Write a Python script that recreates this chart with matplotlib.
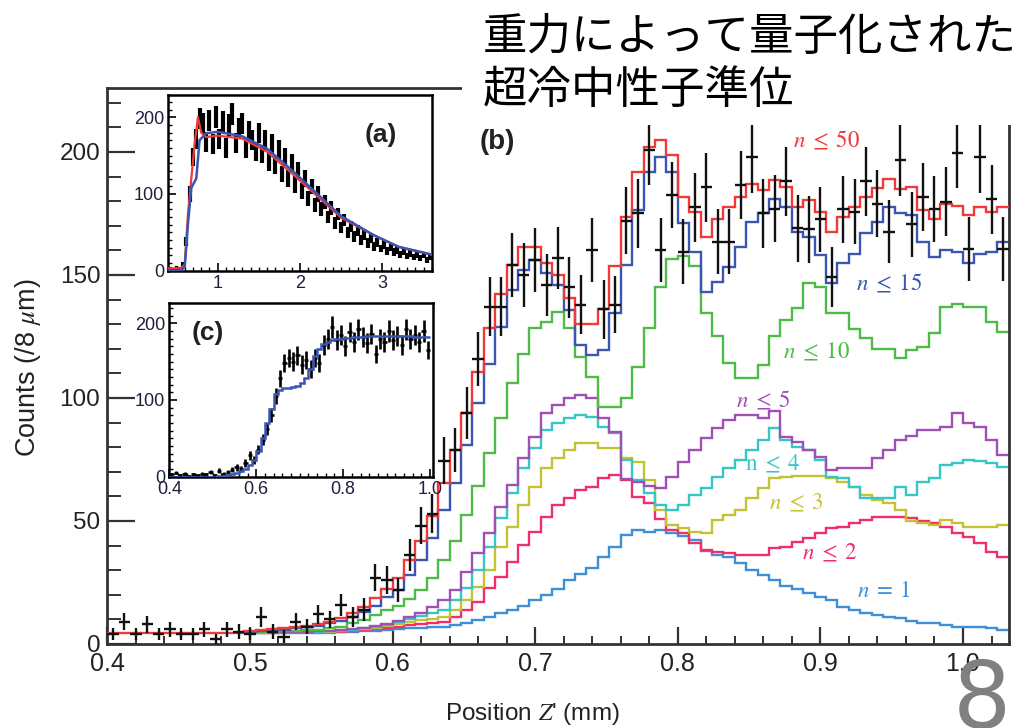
import numpy as np
import matplotlib
matplotlib.use('Agg')
import matplotlib.pyplot as plt
from matplotlib.patches import Rectangle
from matplotlib.ticker import MultipleLocator

plt.rcParams['font.family'] = ['Liberation Sans', 'DejaVu Sans']
plt.rcParams['mathtext.fontset'] = 'stix'

# --- main panel (b): data, 8 um bins starting at 0.4 mm ---
BIN_START = 0.4
BIN_WIDTH = 0.008
MODEL_START_BIN = 12   # model curves other than n<=50 start here

counts = [4, 9, 4, 8, 4, 6, 4, 4, 6, 2,
          6, 5, 4, 11, 5, 3, 9, 7, 12, 10,
          16, 11, 14, 27, 26, 22, 36, 48, 53, 74.5,
          79, 94, 116, 137, 137, 154, 150, 156, 146, 157,
          145, 138, 160, 136, 138, 172, 175, 201, 160, 182.5,
          159.5, 177.5, 185.6, 163.5, 163.5, 186.6, 198, 175, 177, 188,
          169, 168.5, 172.6, 149.3, 176.7, 175.8, 188, 179, 167.6, 196.7,
          170.6, 181.6, 176.7, 179.8, 199.7, 160.4, 197.8, 180.8, 160.4]
count_errors = [2.5, 3.5, 2.5, 3.5, 2.5, 3, 2.5, 2.5, 3, 2,
                3, 3, 2.5, 4, 3, 2.5, 3.5, 3, 4, 3.5,
                4.5, 4, 4.5, 5.5, 5.5, 5, 6.5, 7.5, 8, 9.5,
                9, 10.5, 11, 12, 12, 13, 13, 13, 12.5, 12.5,
                12.5, 12, 13, 12, 11.5, 13.6, 14, 14.5, 13, 13.6,
                13.2, 13.9, 13.9, 13.2, 13.2, 14, 14.5, 13.9, 13.5, 13.9,
                13.6, 13.6, 13.3, 12.2, 13.7, 13.3, 13.9, 13.6, 12.9, 14.5,
                13.2, 13.9, 13.4, 13.9, 14.5, 13, 14.5, 14, 13]

model_n50 = [4.6] * 12 + [
    5.3, 5.5, 6, 6.3, 7, 7.5, 8, 9, 10.5, 12.5,
    15, 18.5, 22.5, 27, 34, 42, 52,
    65.3, 78.9, 93.8, 110.7, 128.3, 142.1, 154, 161.5, 161.5, 154.7, 150, 140.5, 130, 130, 136, 153.5,
    173.7, 192, 201.9, 204.9, 198.8, 181.8, 175.7, 165.6, 172.6, 177.5, 181.6, 187, 184.6, 188.7,
    185.9, 177.5, 180.5, 175.7, 167.6, 173.7, 177.5, 181.6, 185.2, 188.9, 184.8,
    185.6, 176.4, 172.6, 178.9, 178, 174.4, 177.5, 175.7, 177.5]
model_n15 = [5, 5.2, 5.5, 5.8, 6.3, 7, 7.5, 8.5, 9.5, 11,
             13, 15.5, 19, 22, 28, 34, 43,
             54.5, 65.3, 81, 97.8, 114, 129, 143.9, 152, 156, 150.7, 146, 135.8, 121.5, 117.5, 119.5, 134.4,
             154, 176.4, 192, 197.8, 192, 171.3, 159.5, 143.2, 147.3, 153.4, 161.5, 171.7, 175.1, 180.8,
             177.5, 167.6, 165.6, 158.1, 146.6, 154.7, 158.5, 167, 171.7, 177.8, 175.1,
             174.4, 163.5, 157.5, 160.2, 159.5, 155, 158.5, 159.5, 163.5]
model_n10 = [4.8, 4.9, 5, 5.1, 5.3, 5.5, 5.8, 6.4, 7, 8.4,
             9.6, 11.6, 13.7, 15.6, 18.3, 22, 27,
             34, 42, 52.4, 64.2, 77.5, 91.8, 106, 118, 128.4, 131, 135, 128.4, 116.8, 108.6, 96.5, 96.5,
             99.9, 112.7, 128.3, 145.3, 156.4, 157.7, 153.7, 134.4, 125, 114.1, 108, 108, 113.4, 125.3,
             131.7, 136.5, 146.6, 145.2, 134.4, 134.4, 127.9, 124.3, 119.8, 119.8, 116.1,
             119.5, 120.9, 126.3, 137.1, 138.2, 137.1, 137.1, 131, 127]
model_n5 = [4.7, 4.7, 4.8, 4.8, 4.9, 5, 5.1, 5.3, 5.6, 6,
            6.6, 7.4, 8.3, 9.4, 10.8, 12.5, 15,
            17.9, 22, 29.4, 36.9, 45, 55.8, 64.6, 75.5, 84.3, 93.8, 97, 100, 101.2, 99.9, 91.7, 86.3,
            67, 66, 64.2, 63.3, 68, 74.1, 78.9, 83.6, 88, 91.1, 93.1, 93.1, 92, 94.8,
            84, 82.2, 78.9, 76.1, 70.7, 71.4, 71.4, 71.4, 75.5, 78.9, 82.9,
            84.6, 87, 87, 88.3, 93.8, 89.7, 88.3, 82.9, 77]
model_n4 = [4.7, 4.7, 4.7, 4.8, 4.8, 4.9, 5, 5.1, 5.4, 5.8,
            6.3, 7, 7.8, 8.8, 10, 11.2, 12.5,
            13.8, 17.9, 22.6, 30.1, 39.6, 51.1, 61.3, 71.4, 79.5, 87, 89.7, 91.7, 93.1, 92.4, 88.3, 85.6,
            74.8, 66.7, 61.3, 56.5, 54.5, 56.5, 60.6, 63.3, 68, 71.4, 74.8, 78.9, 82.9, 87.7,
            82.9, 80.2, 78.9, 74.8, 68, 67.3, 63.9, 59.2, 59.2, 59.2, 63.9,
            60.6, 66, 67.3, 72.8, 73.7, 74.8, 74.4, 73.4, 71.8]
model_n3 = [4.6, 4.6, 4.7, 4.7, 4.8, 4.8, 4.9, 5, 5.2, 5.5,
            5.9, 6.5, 7.2, 8, 8.8, 9.6, 10.3,
            11.1, 13.8, 17.9, 23.3, 30.1, 39.6, 47.7, 56.5, 63.9, 71.4, 75.5, 78.9, 81.6, 81.8, 79.5, 79.5,
            75.5, 74.1, 66.7, 54.5, 48.4, 47, 45.7, 45, 50.4, 52.4, 54.5, 59.2, 63.3, 67.3,
            68, 68.3, 68.3, 68.3, 67.3, 66, 63.9, 60.6, 58.5, 57.2, 54.5,
            49.8, 49.1, 48.4, 50.4, 49.1, 47.7, 47.7, 47.7, 48.4]
model_n2 = [4.6, 4.6, 4.6, 4.7, 4.7, 4.8, 4.8, 4.9, 5, 5.3,
            5.6, 6, 6.5, 7, 7.6, 8.2, 8.7,
            9.1, 11.1, 13.8, 17.2, 22.6, 27.4, 33.5, 40.2, 45.7, 51.8, 56.5, 59.5, 62.6, 63.9, 67.5, 68.7,
            66.7, 59.9, 57.2, 51, 46.3, 45, 40.9, 38.2, 37.5, 36.9, 36.2, 36.2, 36.2, 38.9,
            39.6, 41.6, 42.9, 45, 47, 47.7, 49.3, 50.4, 51.5, 51.8, 51.8,
            51.1, 49.8, 49.1, 47.7, 45, 43.6, 40.9, 37.5, 35.4]
model_n1 = [4.6, 4.6, 4.6, 4.6, 4.6, 4.6, 4.6, 4.6, 4.7, 4.9,
            5.1, 5.4, 5.7, 6, 6.3, 6.6, 6.8,
            7, 7.7, 8.7, 9.8, 10.9, 12.5, 13.8, 15.5, 17.9, 20, 22.2, 26, 28.5, 30.8, 35.5, 39.6,
            44.3, 46.5, 45.7, 46.5, 45, 43.7, 42.3, 38, 36.2, 35.5, 32.8, 30.1, 28, 26,
            23.6, 22.2, 20.6, 19.2, 17.9, 15.2, 13.8, 12.5, 11.8, 11.1, 10.5,
            9.5, 8.7, 8.4, 7.7, 7, 7, 6.8, 6.4, 5.7]

# --- inset (a): wide range, 0.04 mm bins ---
A_BIN_START = 0.4
A_BIN_WIDTH = 0.04
counts_a = [2, 1, 3, 2, 8, 38, 100, 148, 172, 198,
            192, 168, 196, 165, 200, 172, 194, 160, 190, 204,
            166, 185, 192, 160, 182, 170, 155, 180, 152, 170,
            142, 165, 138, 158, 126, 148, 120, 140, 112, 130,
            104, 120, 94, 110, 86, 100, 80, 90, 70, 82,
            62, 74, 56, 66, 50, 58, 45, 52, 40, 47,
            36, 42, 32, 37, 29, 34, 26, 30, 24, 27,
            21, 25, 19, 23, 18, 21, 16, 20, 14, 18]
errors_a = [2, 2, 2, 2, 3, 6, 10, 12, 13, 14,
            14, 13, 14, 13, 14, 13, 14, 13, 14, 14,
            13, 14, 14, 13, 13, 13, 12, 13, 12, 13,
            12, 13, 12, 12, 11, 12, 11, 12, 11, 11,
            10, 11, 10, 10, 9, 10, 9, 9, 8, 9,
            8, 8, 7, 8, 7, 7, 7, 7, 6, 7,
            6, 6, 6, 6, 5, 6, 5, 5, 5, 5,
            5, 5, 4, 5, 4, 5, 4, 4, 4, 4]
fit_a_x = [0.4, 0.55, 0.6, 0.64, 0.68, 0.74, 0.78, 0.86, 1.0, 1.3, 1.6, 1.9, 2.2, 2.5, 2.9, 3.2, 3.6]
fit_a_blue = [0, 0, 5, 62, 108, 120, 170, 179, 181, 175, 159, 131, 101, 71, 46, 31, 21]
fit_a_red_x = [0.4, 0.55, 0.6, 0.64, 0.68, 0.72, 0.76, 0.8, 0.86, 1.0, 1.3, 1.6, 1.9, 2.2, 2.5, 2.9, 3.2, 3.6]
fit_a_red = [3, 3, 8, 75, 120, 165, 200, 180, 174, 176, 172, 155, 127, 98, 69, 46, 31, 21]

# --- inset (c): 0.01 mm bins ---
C_BIN_START = 0.4
C_BIN_WIDTH = 0.01
counts_c = [3, 5, 2, 4, 1, 3, 2, 4, 3, 6,
            2, 8, 4, 6, 9, 12, 10, 18, 28, 22,
            35, 48, 62, 80, 105, 128, 148, 155, 150, 158,
            146, 152, 140, 155, 148, 172, 180, 195, 178, 185,
            170, 188, 176, 192, 182, 174, 186, 160, 180, 175,
            190, 178, 183, 172, 192, 180, 185, 176, 190, 165]
errors_c = [2, 2, 2, 2, 1, 2, 2, 2, 2, 3,
            2, 3, 2, 3, 3, 4, 4, 5, 6, 5,
            6, 7, 8, 9, 10, 11, 12, 12, 12, 12,
            12, 12, 12, 12, 12, 13, 13, 14, 13, 13,
            13, 13, 13, 14, 13, 13, 13, 12, 13, 13,
            14, 13, 13, 13, 14, 13, 13, 13, 14, 12]
fit_c = [0, 0, 0, 0, 0, 0, 0, 0, 0, 0,
         0, 0.5, 1, 2, 3, 5, 7, 10, 15, 22,
         33, 50, 70, 88, 108, 113, 115, 116, 117, 118,
         122, 128, 140, 157, 167, 173, 176, 178, 179, 180,
         181, 181, 182, 182, 182, 183, 183, 183, 183, 183,
         183, 183, 183, 183, 183, 183, 182, 182, 182, 182]

TEXT_COLOR = '#222222'
FRAME_COLOR = '#333333'

fig = plt.figure(figsize=(10.18, 7.28), dpi=100)

# ---------------- main axes ----------------
ax = fig.add_axes([0.1054, 0.1154, 0.8861, 0.7637])
edges = BIN_START + BIN_WIDTH * np.arange(len(counts) + 1)
centers = edges[:-1] + BIN_WIDTH / 2

models = [
    (model_n1, '#3d8fd6', r'$n\;=\;1$', (0.9445, 21.7)),
    (model_n2, '#ef2f6a', r'$n\;\leq\;2$', (0.9068, 37)),
    (model_n3, '#c4c233', r'$n\;\leq\;3$', (0.883, 57.3)),
    (model_n4, '#36c6c6', r'$\mathrm{n}\;\leq\;4$', (0.8668, 73.2)),
    (model_n5, '#a04fb4', r'$n\;\leq\;5$', (0.8598, 98.9)),
    (model_n10, '#4dbb46', r'$n\;\leq\;10$', (0.8977, 118.9)),
    (model_n15, '#3a55b2', r'$n\;\leq\;15$', (0.9485, 146.3)),
]
for values, color, label, (lx, ly) in models:
    ax.stairs(values, edges[MODEL_START_BIN:], color=color, linewidth=1.7, baseline=None, zorder=2)
    ax.text(lx, ly, label, color=color, fontsize=16.5, ha='center', va='center', zorder=4)
ax.stairs(model_n50, edges, color='#f03a3a', linewidth=1.7, baseline=None, zorder=3)
ax.text(0.9047, 204.5, r'$n\;\leq\;50$', color='#f03a3a', fontsize=16.5,
        ha='center', va='center', zorder=4)

ax.errorbar(centers, counts, yerr=count_errors, xerr=BIN_WIDTH / 2, fmt='none',
            ecolor='#111111', elinewidth=1.7, capsize=0, zorder=5)

ax.text(0.6738, 203.9, '(b)', fontsize=20, fontweight='bold', color=TEXT_COLOR,
        ha='center', va='center')

ax.set_xlim(0.4, 1.0325)
ax.set_ylim(0, 226)
ax.set_xticks([0.4, 0.5, 0.6, 0.7, 0.8, 0.9, 1.0])
ax.set_xticklabels(['0.4', '0.5', '0.6', '0.7', '0.8', '0.9', '1.0'])
ax.xaxis.set_minor_locator(MultipleLocator(0.02))
ax.set_yticks([0, 50, 100, 150, 200])
ax.yaxis.set_minor_locator(MultipleLocator(10))
ax.tick_params(axis='x', which='major', direction='in', length=12, width=1.6,
               colors=FRAME_COLOR, labelcolor=TEXT_COLOR, labelsize=18, pad=6)
ax.tick_params(axis='x', which='minor', direction='in', length=6, width=1.4, colors=FRAME_COLOR)
ax.tick_params(axis='y', which='major', direction='in', length=20, width=1.6,
               colors=FRAME_COLOR, labelcolor=TEXT_COLOR, labelsize=17.5, pad=5)
ax.tick_params(axis='y', which='minor', direction='in', length=10, width=1.4, colors=FRAME_COLOR)
for side in ['bottom', 'left', 'top', 'right']:
    ax.spines[side].set_linewidth(2)
    ax.spines[side].set_color(FRAME_COLOR)

ax.set_ylabel(r'Counts (/8 $\mu$m)', fontsize=19.5, color=TEXT_COLOR)
ax.yaxis.set_label_coords(-0.071, 0.497)
ax.set_xlabel(r"Position $Z$' (mm)", fontsize=17.5, color=TEXT_COLOR)
ax.xaxis.set_label_coords(0.471, -0.102)

# ---------------- inset (a) ----------------
axa = fig.add_axes([0.1653, 0.6282, 0.2588, 0.2414])
edges_a = A_BIN_START + A_BIN_WIDTH * np.arange(len(counts_a) + 1)
centers_a = edges_a[:-1] + A_BIN_WIDTH / 2
axa.errorbar(centers_a, counts_a, yerr=errors_a, xerr=A_BIN_WIDTH / 2, fmt='none',
             ecolor='black', elinewidth=3.0, capsize=0, zorder=2)
axa.plot(fit_a_red_x, fit_a_red, color='#f03a3a', linewidth=1.6, zorder=3)
axa.plot(fit_a_x, fit_a_blue, color='#3a55b2', linewidth=1.8, zorder=4)
axa.text(0.807, 0.772, '(a)', transform=axa.transAxes, fontsize=19, fontweight='bold',
         color=TEXT_COLOR, ha='center', va='center')
axa.set_xlim(0.4, 3.6)
axa.set_ylim(0, 229)
axa.set_xticks([1, 2, 3])
axa.xaxis.set_minor_locator(MultipleLocator(0.1))
axa.set_yticks([0, 100, 200])
axa.yaxis.set_minor_locator(MultipleLocator(10))

# ---------------- inset (c) ----------------
axc = fig.add_axes([0.1663, 0.3452, 0.2587, 0.2382])
edges_c = C_BIN_START + C_BIN_WIDTH * np.arange(len(counts_c) + 1)
centers_c = edges_c[:-1] + C_BIN_WIDTH / 2
axc.errorbar(centers_c, counts_c, yerr=errors_c, xerr=C_BIN_WIDTH / 2, fmt='none',
             ecolor='black', elinewidth=1.9, capsize=0, zorder=2)
axc.stairs(fit_c, edges_c, color='#3a55b2', linewidth=1.8, baseline=None, zorder=3)
axc.text(0.145, 0.829, '(c)', transform=axc.transAxes, fontsize=19, fontweight='bold',
         color=TEXT_COLOR, ha='center', va='center')
axc.set_xlim(0.4, 1.006)
axc.set_ylim(0, 226)
axc.set_xticks([0.4, 0.6, 0.8, 1.0])
axc.set_xticklabels(['0.4', '0.6', '0.8', '1.0'])
axc.xaxis.set_minor_locator(MultipleLocator(0.02))
axc.set_yticks([0, 100, 200])
axc.yaxis.set_minor_locator(MultipleLocator(10))

for inset in [axa, axc]:
    inset.tick_params(which='major', direction='in', length=6, width=1.2, colors='black',
                      labelcolor='#1e2040', labelsize=13, pad=3)
    inset.tick_params(which='minor', direction='in', length=3, width=1.0, colors='black')
    for side in ['bottom', 'left', 'top', 'right']:
        inset.spines[side].set_linewidth(1.8)
        inset.spines[side].set_color('black')

# ---------------- slide overlays ----------------
fig.add_artist(Rectangle((462 / 1018, 1 - 125 / 728), 1 - 462 / 1018, 125 / 728,
                         transform=fig.transFigure, facecolor='white', edgecolor='none', zorder=5))
fig.text(483 / 1018, 1 - 14 / 728, '重力によって量子化された\n超冷中性子準位',
         ha='left', va='top', fontsize=32, family=['Noto Sans CJK JP', 'DejaVu Sans'],
         color='black', linespacing=1.22, zorder=6)
fig.text(0.9642, 0.0, '8', ha='center', va='baseline', fontsize=66,
         family=['DejaVu Sans'], color='#808080', zorder=6)

fig.savefig('out.png', dpi=100)
